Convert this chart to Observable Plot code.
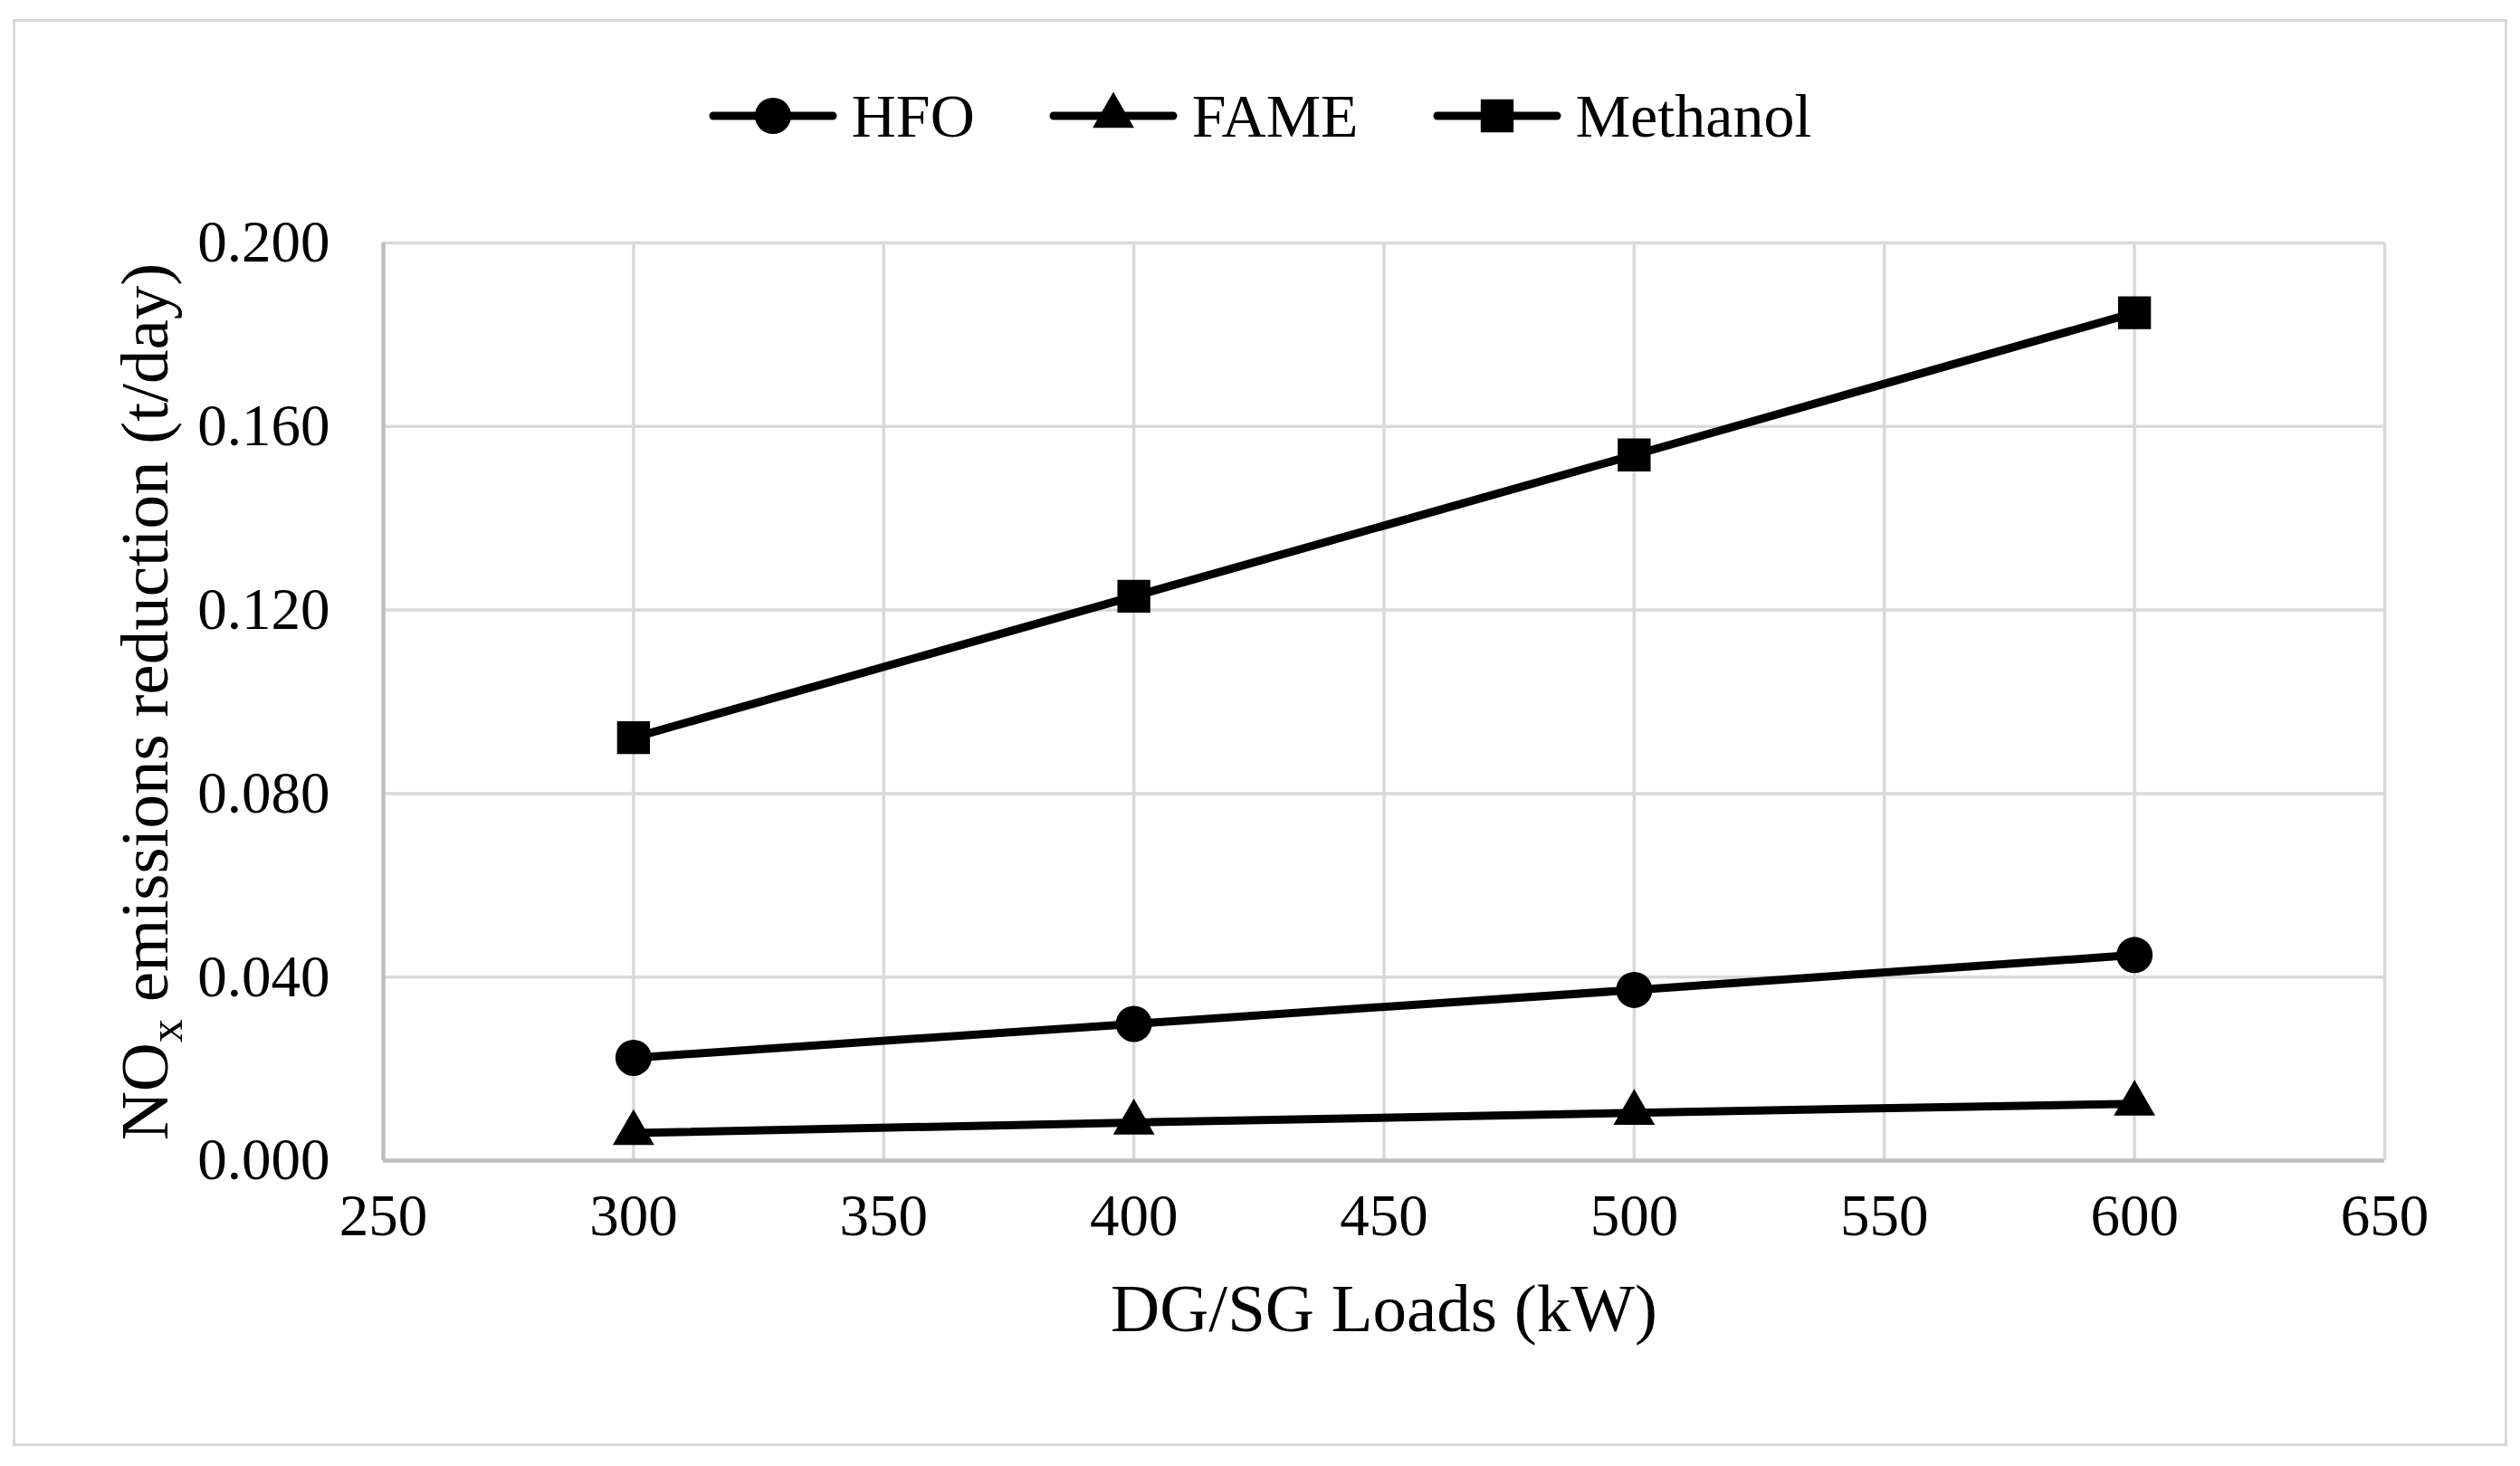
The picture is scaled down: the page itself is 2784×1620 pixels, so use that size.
<!DOCTYPE html>
<html><head><meta charset="utf-8">
<script src="https://cdn.jsdelivr.net/npm/d3@7"></script>
<script src="https://cdn.jsdelivr.net/npm/@observablehq/plot@0.6"></script>
<style>
body{margin:0;background:#fff;}
#wrap{position:relative;width:2784px;height:1620px;font-family:"Liberation Serif","Times New Roman",serif;background:#fff;overflow:hidden;}
#border{position:absolute;left:14px;top:21px;width:2750px;height:1571px;border:3px solid #d9d9d9;pointer-events:none;}
#legend{height:200px;position:relative;}
#legend .row{position:absolute;left:0;right:0;top:88px;height:80px;display:flex;justify-content:center;align-items:center;}
#legend .item{display:flex;align-items:center;margin:0 41px;}
#legend .item span{font-size:68px;margin-left:16px;color:#000;line-height:1;}
svg{display:block;}
</style>
</head><body>
<div id="wrap">
<div id="border"></div>
<div id="legend"><div class="row"></div></div>
<div id="chart"></div>
</div>
<script>
// Data
const loads = [300, 400, 500, 600];
const fuels = ["HFO", "FAME", "Methanol"];
const hfo = [0.0224, 0.0298, 0.0372, 0.0448];
const fame = [0.0060, 0.0083, 0.0104, 0.0124];
const methanol = [0.0922, 0.1230, 0.1538, 0.1848];
const xTicks = [250, 300, 350, 400, 450, 500, 550, 600, 650];
const yTicks = [0, 0.04, 0.08, 0.12, 0.16, 0.2];
const xLabel = "DG/SG Loads (kW)";
const yLabel = "NOx emissions reduction (t/day)";

const series = {HFO: hfo, FAME: fame, Methanol: methanol};
const symbols = {HFO: "circle", FAME: "triangle", Methanol: "square"};
const radii = {HFO: 20, FAME: 17, Methanol: 20.5};
const rows = fuels.flatMap(f => loads.map((x, i) => ({fuel: f, x, y: series[f][i]})));

// Legend (HTML above the chart)
const row = d3.select("#legend .row");
fuels.forEach(f => {
  const it = row.append("div").attr("class", "item");
  const s = it.append("svg").attr("width", 142).attr("height", 60);
  s.append("line").attr("x1", 5).attr("x2", 137).attr("y1", 30).attr("y2", 30)
    .attr("stroke", "#000").attr("stroke-width", 9).attr("stroke-linecap", "round");
  s.append("path").attr("transform", "translate(71,30)")
    .attr("d", d3.symbol(f === "HFO" ? d3.symbolCircle : f === "FAME" ? d3.symbolTriangle : d3.symbolSquare, Math.PI * radii[f] * radii[f])())
    .attr("fill", "#000");
  it.append("span").text(f);
});

const fmt = d3.format(".3f");
const plot = Plot.plot({
  width: 2784,
  height: 1420,
  marginTop: 68,
  marginBottom: 338,
  marginLeft: 423,
  marginRight: 150,
  style: {fontFamily: "'Liberation Serif', 'Times New Roman', serif", fontSize: "65px", background: "white", color: "black"},
  x: {domain: [250, 650], axis: null},
  y: {domain: [0, 0.2], axis: null},
  marks: [
    Plot.ruleX(xTicks, {x: d => d, stroke: "#d9d9d9", strokeWidth: 3.5, strokeOpacity: 1}),
    Plot.ruleY(yTicks, {y: d => d, stroke: "#d9d9d9", strokeWidth: 3.5, strokeOpacity: 1}),
    Plot.ruleX([xTicks[0]], {x: d => d, stroke: "#bfbfbf", strokeWidth: 4.5}),
    Plot.ruleY([yTicks[0]], {y: d => d, stroke: "#bfbfbf", strokeWidth: 4.5}),
    Plot.text(yTicks, {y: d => d, frameAnchor: "left", text: d => fmt(d), textAnchor: "end", dx: -59, fill: "#000"}),
    Plot.text(xTicks, {x: d => d, frameAnchor: "bottom", text: d => String(d), dy: 82, fill: "#000"}),
    Plot.text([xLabel], {frameAnchor: "bottom", text: d => d, dy: 188, fontSize: 75, fill: "#000"}),
    Plot.text([yLabel], {frameAnchor: "left", text: d => d, textAnchor: "middle", dx: -263, rotate: -90, fontSize: 75, fill: "#000"}),
    Plot.line(rows, {x: "x", y: "y", z: "fuel", stroke: "#000", strokeWidth: 9, strokeLinejoin: "round"}),
    ...fuels.map(f => Plot.dot(rows.filter(d => d.fuel === f), {x: "x", y: "y", symbol: () => symbols[f], r: radii[f], fill: "#000", stroke: "none"}))
  ]
});
document.getElementById("chart").appendChild(plot);

// Subscript x in NOx
d3.select(plot).selectAll("text").filter(function() { return this.textContent === yLabel; }).each(function() {
  const t = d3.select(this);
  t.text(null);
  t.append("tspan").text("NO");
  t.append("tspan").attr("dy", 16).attr("font-size", 52).text("x");
  t.append("tspan").attr("dy", -16).text(" emissions reduction (t/day)");
});
</script>
</body></html>
